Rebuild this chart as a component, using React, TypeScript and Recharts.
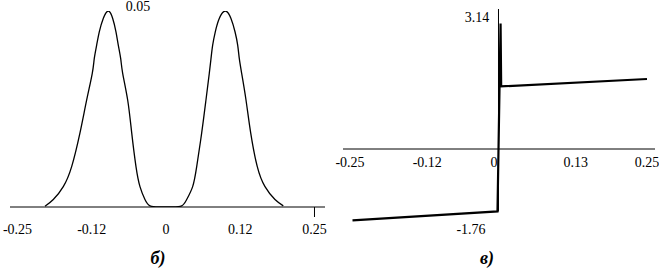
import { LineChart, Line, XAxis, YAxis, ReferenceLine } from 'recharts';

// panel б) — amplitude, two bumps
const ampX = [
  -0.2037, -0.1897, -0.1729, -0.1588, -0.1448, -0.1335, -0.1241, -0.1207, -0.1167, -0.1123, -0.1056,
  -0.0971, -0.0897, -0.0842, -0.0803, -0.0763, -0.0729, -0.0645, -0.0577, -0.0505, -0.0438, -0.0354,
  -0.0269, -0.012, 0, 0.012,
  0.0264, 0.0348, 0.0449, 0.0517, 0.0601, 0.0673, 0.0729, 0.0758, 0.0786, 0.083, 0.0897,
  0.0999, 0.1094, 0.1162, 0.1207, 0.1234, 0.1274, 0.1347, 0.1426, 0.1537, 0.1667, 0.1835, 0.1975,
];
const ampY = [
  0.0002, 0.0019, 0.0052, 0.0103, 0.0189, 0.0273, 0.0341, 0.0379, 0.0413, 0.0447, 0.0481,
  0.05, 0.0481, 0.0447, 0.0413, 0.0379, 0.0341, 0.0273, 0.0189, 0.0103, 0.0052, 0.0019,
  0.0003, 0, 0, 0,
  0.0003, 0.0019, 0.0052, 0.0103, 0.0189, 0.0273, 0.0341, 0.0379, 0.0413, 0.0447, 0.0481,
  0.05, 0.0481, 0.0447, 0.0413, 0.0379, 0.0341, 0.0273, 0.0189, 0.0103, 0.0052, 0.0019, 0.0003,
];
const ampTicks = [-0.25, -0.125, 0, 0.125, 0.25];
const ampTickLabels = ['-0.25', '-0.12', '0', '0.12', '0.25'];

// panel в) — phase with the jump at zero
const phaseX = [-0.2458, -0.0017, 0.0035, 0.0045, 0.25];
const phaseY = [-1.785, -1.56, 3.14, 1.565, 1.75];
const phaseTicks = [-0.25, -0.12, 0, 0.13, 0.25];
const phaseTickLabels = ['-0.25', '-0.12', '0', '0.13', '0.25'];

const ampData = ampX.map((x, i) => ({ x, y: ampY[i] }));
const phaseData = phaseX.map((x, i) => ({ x, y: phaseY[i] }));

const font = 'Liberation Serif, serif';
const txt = { fontFamily: font, fill: '#000' };

function AmpTick(props: any) {
  const { x, y, payload, index } = props;
  return (
    <g>
      {payload.value === 0.25 && <line x1={x} x2={x} y1={y - 8} y2={y + 2} stroke="#000" />}
      <text x={x} y={y + 19} textAnchor="middle" fontSize={14} style={txt}>
        {ampTickLabels[index]}
      </text>
    </g>
  );
}

function PhaseTick(props: any) {
  const { x, payload, index } = props;
  const zero = payload.value === 0;
  return (
    <text x={zero ? x - 1 : x} y={166.5} textAnchor={zero ? 'end' : 'middle'} fontSize={14} style={txt}>
      {phaseTickLabels[index]}
    </text>
  );
}

export default function App() {
  return (
    <div style={{ position: 'absolute', left: 0, top: 0, width: 659, height: 270, background: '#fff', fontFamily: font }}>
      <div style={{ position: 'absolute', left: 0, top: 0 }}>
        <LineChart width={330} height={270} data={ampData} margin={{ top: 11, right: 5, bottom: 23, left: 10 }}>
          <XAxis
            type="number"
            dataKey="x"
            domain={[-0.2626, 0.2677]}
            ticks={ampTicks}
            tick={<AmpTick />}
            tickLine={false}
            axisLine={{ stroke: '#000', strokeWidth: 1 }}
            height={40}
            interval={0}
          />
          <YAxis type="number" domain={[0, 0.05]} hide allowDataOverflow />
          <Line type="natural" dataKey="y" stroke="#000" strokeWidth={1.3} dot={false} isAnimationActive={false} />
        </LineChart>
      </div>
      <div style={{ position: 'absolute', left: 330, top: 0 }}>
        <LineChart width={329} height={270} data={phaseData} margin={{ top: 9, right: 4, bottom: 11, left: 13 }}>
          <XAxis
            type="number"
            dataKey="x"
            domain={[-0.2618, 0.2635]}
            ticks={phaseTicks}
            tick={<PhaseTick />}
            tickLine={false}
            axisLine={false}
            height={30}
            interval={0}
          />
          <YAxis type="number" domain={[-2, 3.5]} hide />
          <ReferenceLine y={0} stroke="#000" strokeWidth={1} />
          <ReferenceLine segment={[{ x: 0, y: -1.56 }, { x: 0, y: 3.5 }]} stroke="#000" strokeWidth={1} />
          <Line type="linear" dataKey="y" stroke="#000" strokeWidth={2.2} dot={false} isAnimationActive={false} />
        </LineChart>
      </div>
      <svg width={659} height={270} style={{ position: 'absolute', left: 0, top: 0, pointerEvents: 'none' }}>
        <g style={txt}>
          <text x={138} y={11} textAnchor="middle" fontSize={14}>0.05</text>
          <text x={477} y={21.5} textAnchor="middle" fontSize={14}>3.14</text>
          <text x={471} y={234} textAnchor="middle" fontSize={14}>-1.76</text>
          <text x={158} y={264} textAnchor="middle" fontSize={18} fontWeight="bold" fontStyle="italic">б)</text>
          <text x={487} y={264} textAnchor="middle" fontSize={18} fontWeight="bold" fontStyle="italic">в)</text>
        </g>
      </svg>
    </div>
  );
}
